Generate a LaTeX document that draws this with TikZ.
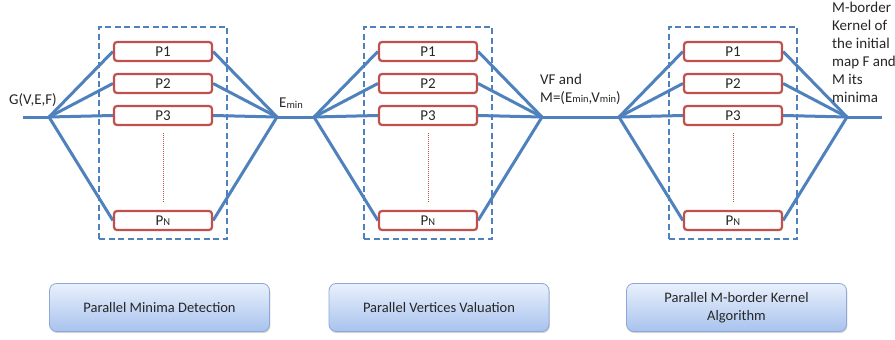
\documentclass[tikz,border=0pt]{standalone}
\usepackage{fontspec}
\setmainfont{Carlito}
\usetikzlibrary{shadows,backgrounds}

\definecolor{linkblue}{HTML}{4F81BD}
\definecolor{procred}{HTML}{C0504D}
\definecolor{stageedge}{HTML}{8DA8D8}
\definecolor{stagetop}{HTML}{E9F0FC}
\definecolor{stagebot}{HTML}{A8C3EE}
\definecolor{stagetext}{HTML}{262626}

\tikzstyle{every node}=[font=\fontsize{15}{18}\selectfont, inner sep=0pt]
\tikzstyle{proc}=[draw=procred, line width=2.2pt, rounded corners=3pt, fill=white,
  minimum width=98pt, minimum height=19pt, text=black!85]
\tikzstyle{link}=[draw=linkblue, line width=3pt]
\tikzstyle{group}=[draw=linkblue, line width=2pt, dash pattern=on 6pt off 3.5pt,
  minimum width=128pt, minimum height=212pt]
\tikzstyle{gap}=[draw=procred, line width=0.6pt, dash pattern=on 1pt off 1pt]
\tikzstyle{stage}=[draw=stageedge, line width=0.8pt, rounded corners=7pt,
  top color=stagetop, bottom color=stagebot, text=stagetext, align=center,
  minimum width=220pt, minimum height=48pt, font=\fontsize{14.5}{18}\selectfont,
  drop shadow={shadow xshift=0.8pt, shadow yshift=-1.5pt, opacity=0.35}]
\tikzstyle{lbl}=[align=left, text=black!85]

\newcommand{\smallpart}[1]{\raisebox{-0.5pt}{\fontsize{10.5}{10}\selectfont #1}}

\begin{document}
\begin{tikzpicture}[x=1pt, y=-1pt]
  \useasboundingbox (0,0) rectangle (895,340);

  % three parallel stages
  \foreach \b/\cx in {1/163, 2/428, 3/733} {
    \node[group] (grp\b) at (\cx,132.5) {};
    \node[proc] (p1-\b) at (\cx,51.5) {P1};
    \node[proc] (p2-\b) at (\cx,83.5) {P2};
    \node[proc] (p3-\b) at (\cx,115.5) {P3};
    \node[proc] (pn-\b) at (\cx,220.5) {P\smallpart{N}};
    \coordinate (in\b) at (\cx-114,117);
    \coordinate (out\b) at (\cx+114,117);
    \draw[gap] ([yshift=-7pt]p3-\b.south) -- ([yshift=7pt]pn-\b.north);
    \begin{scope}[on background layer]
      \foreach \p in {p1,p2,p3,pn} {
        \draw[link] (in\b) -- (\p-\b.west);
        \draw[link] (\p-\b.east) -- (out\b);
      }
    \end{scope}
  }

  % main flow
  \coordinate (start) at (23,117);
  \coordinate (end) at (882,117);
  \begin{scope}[on background layer]
    \draw[link] (start) -- (in1);
    \draw[link] (out1) -- (in2);
    \draw[link] (out2) -- (in3);
    \draw[link] (out3) -- (end);
  \end{scope}

  % data labels
  \node[lbl] (graph) at (33,100) {G(V,E,F)};
  \node[lbl] (emin) at (291,103) {E\smallpart{min}};
  \node[lbl, anchor=west] (vfmin) at (540,89) {VF and\\M=(E\smallpart{min},V\smallpart{min})};
  \node[lbl, anchor=north west] (kernel) at (832,2)
    {M-border\\Kernel of\\the initial\\map F and\\M its\\minima};

  % stage captions
  \node[stage] (detect) at (159.5,307.5) {Parallel Minima Detection};
  \node[stage] (valuate) at (439,307.5) {Parallel Vertices Valuation};
  \node[stage] (mborder) at (736.5,307.5) {Parallel M-border Kernel\\Algorithm};
\end{tikzpicture}
\end{document}
